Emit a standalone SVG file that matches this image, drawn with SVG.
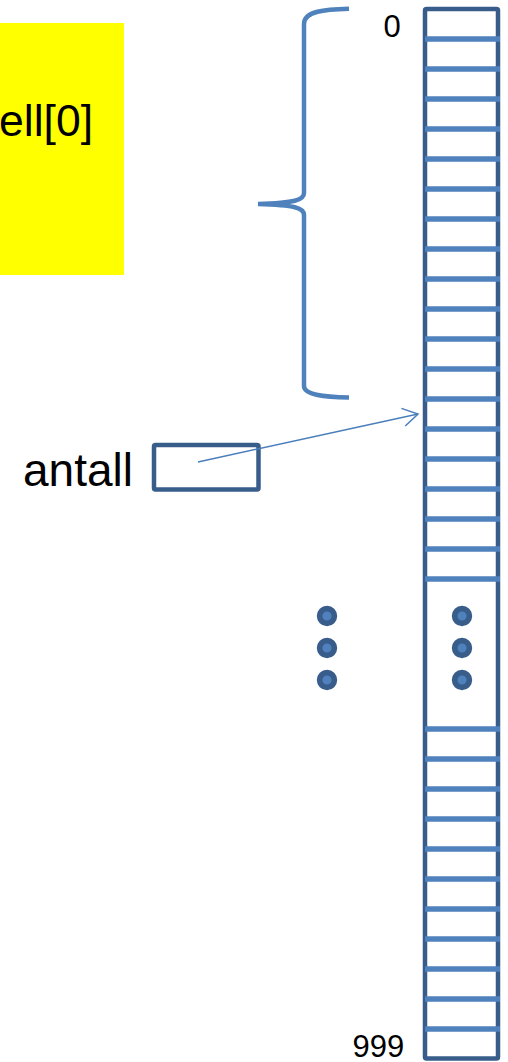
<svg xmlns="http://www.w3.org/2000/svg" width="508" height="1062" viewBox="0 0 508 1062">
  <defs>
    <style>
      .lbl { font-family: "Liberation Sans", Arial, sans-serif; fill: #000; }
      .frame { fill: none; stroke: #385D8A; stroke-width: 4.5; }
      .rung { stroke: #4F81BD; stroke-width: 5.5; }
      .dot { fill: #4F81BD; stroke: #385D8A; stroke-width: 5.6; }
      .brace { fill: none; stroke: #4F81BD; stroke-width: 4.5; stroke-linecap: butt; }
      .link { fill: none; stroke: #4A7EBB; stroke-width: 1.5; }
    </style>
    <marker id="openArrow" viewBox="0 0 20 20" refX="17" refY="10" markerWidth="20" markerHeight="20" markerUnits="userSpaceOnUse" orient="auto">
      <path d="M2,1 L17,10 L2,19" fill="none" stroke="#4A7EBB" stroke-width="1.5"/>
    </marker>
  </defs>

  <!-- yellow note box -->
  <g id="note">
    <rect x="0" y="23" width="124" height="252" fill="#FFFF00"/>
    <text class="lbl" x="-1" y="136" font-size="44.5">ell[0]</text>
  </g>

  <!-- curly brace grouping the first cells -->
  <g id="brace">
    <path class="brace" d="M349,8.8 C325,9.5 304,11 304,24 L304,193 C304,200 295,203 258,204 C295,205 304,208 304,215 L304,386 C304,395 325,397 349,397.5"/>
  </g>

  <!-- array of 1000 cells -->
  <g id="array">
    <rect class="frame" x="425" y="9" width="73" height="1049.5" rx="1.5"/>
    <g id="rungs-top">
      <line class="rung" x1="425" y1="39" x2="500" y2="39"/>
      <line class="rung" x1="425" y1="69" x2="500" y2="69"/>
      <line class="rung" x1="425" y1="99" x2="500" y2="99"/>
      <line class="rung" x1="425" y1="129" x2="500" y2="129"/>
      <line class="rung" x1="425" y1="159" x2="500" y2="159"/>
      <line class="rung" x1="425" y1="189" x2="500" y2="189"/>
      <line class="rung" x1="425" y1="219" x2="500" y2="219"/>
      <line class="rung" x1="425" y1="249" x2="500" y2="249"/>
      <line class="rung" x1="425" y1="279" x2="500" y2="279"/>
      <line class="rung" x1="425" y1="309" x2="500" y2="309"/>
      <line class="rung" x1="425" y1="339" x2="500" y2="339"/>
      <line class="rung" x1="425" y1="369" x2="500" y2="369"/>
      <line class="rung" x1="425" y1="399" x2="500" y2="399"/>
      <line class="rung" x1="425" y1="429" x2="500" y2="429"/>
      <line class="rung" x1="425" y1="459" x2="500" y2="459"/>
      <line class="rung" x1="425" y1="489" x2="500" y2="489"/>
      <line class="rung" x1="425" y1="519" x2="500" y2="519"/>
      <line class="rung" x1="425" y1="549" x2="500" y2="549"/>
      <line class="rung" x1="425" y1="579" x2="500" y2="579"/>
    </g>
    <g id="rungs-bottom">
      <line class="rung" x1="425" y1="729" x2="500" y2="729"/>
      <line class="rung" x1="425" y1="759" x2="500" y2="759"/>
      <line class="rung" x1="425" y1="789" x2="500" y2="789"/>
      <line class="rung" x1="425" y1="819" x2="500" y2="819"/>
      <line class="rung" x1="425" y1="849" x2="500" y2="849"/>
      <line class="rung" x1="425" y1="879" x2="500" y2="879"/>
      <line class="rung" x1="425" y1="909" x2="500" y2="909"/>
      <line class="rung" x1="425" y1="939" x2="500" y2="939"/>
      <line class="rung" x1="425" y1="969" x2="500" y2="969"/>
      <line class="rung" x1="425" y1="999" x2="500" y2="999"/>
      <line class="rung" x1="425" y1="1029" x2="500" y2="1029"/>
    </g>
    <g id="ellipsis-array">
      <circle class="dot" cx="462" cy="616" r="7.4"/>
      <circle class="dot" cx="462" cy="648" r="7.4"/>
      <circle class="dot" cx="462" cy="680" r="7.4"/>
    </g>
    <text class="lbl" x="383.5" y="36.5" font-size="31">0</text>
    <text class="lbl" x="352.5" y="1057" font-size="31">999</text>
  </g>

  <!-- vertical ellipsis beside the array -->
  <g id="ellipsis-left">
    <circle class="dot" cx="327" cy="616" r="7.4"/>
    <circle class="dot" cx="327" cy="648" r="7.4"/>
    <circle class="dot" cx="327" cy="680" r="7.4"/>
  </g>

  <!-- counter variable -->
  <g id="antall">
    <text class="lbl" x="23" y="486" font-size="46">antall</text>
    <rect class="frame" x="154" y="445" width="104.5" height="44.5" rx="1.5"/>
  </g>

  <!-- pointer from the counter into the array -->
  <g id="connectors">
    <line class="link" x1="198" y1="462" x2="418" y2="414" marker-end="url(#openArrow)"/>
  </g>
</svg>
